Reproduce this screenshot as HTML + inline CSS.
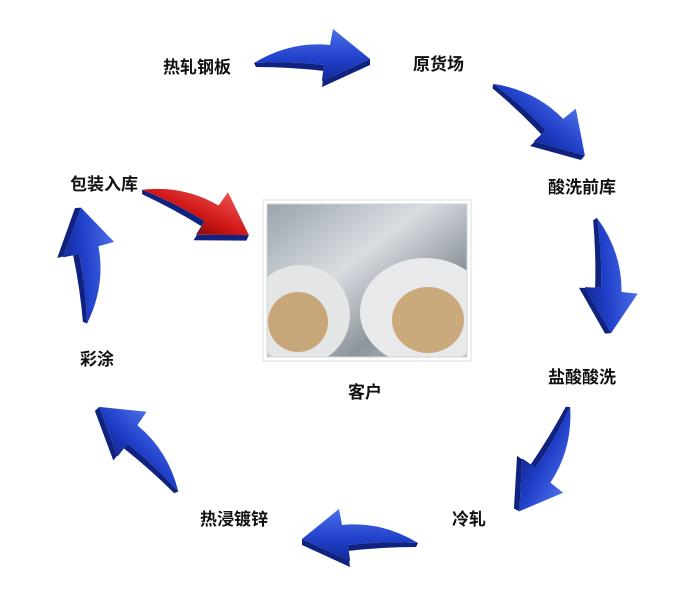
<!DOCTYPE html>
<html><head><meta charset="utf-8"><style>
html,body{margin:0;padding:0;background:#fff;}
.w{position:relative;width:680px;height:589px;overflow:hidden;font-family:"Liberation Sans","Noto Sans CJK SC",sans-serif;}
.t{position:absolute;font-size:17px;color:#111;font-weight:bold;white-space:nowrap;line-height:20px;}
</style></head><body><div class="w">
<svg width="680" height="589" style="position:absolute;left:0;top:0">
<defs>
<linearGradient id="b" x1="0" y1="0" x2="0" y2="1"><stop offset="0" stop-color="#4a6ee8"/><stop offset="0.6" stop-color="#1f3fc8"/><stop offset="1" stop-color="#142a9a"/></linearGradient>
<linearGradient id="r" x1="0" y1="0" x2="0" y2="1"><stop offset="0" stop-color="#f05050"/><stop offset="0.6" stop-color="#d01818"/><stop offset="1" stop-color="#8e0a0a"/></linearGradient>
<g id="a"><path d="M-58,8 Q-22,-14 18,-10 L21,-26 L58,4 L10,26 L12,10 Q-22,6 -58,8 Z"/><path d="M-58,8 Q-22,6 12,10 L10,26 L58,4 L58,10 L10,32 L12,16 Q-22,12 -56,12Z" fill="#0f2280"/></g>
<linearGradient id="p" x1="0" y1="0" x2="1" y2="1"><stop offset="0" stop-color="#9aa3ab"/><stop offset="0.4" stop-color="#d8dde2"/><stop offset="0.7" stop-color="#8d959c"/><stop offset="1" stop-color="#c0c6cc"/></linearGradient>
<clipPath id="c"><rect x="267" y="204" width="200" height="153"/></clipPath>
</defs>
<use href="#a" fill="url(#b)" transform="translate(312,55)"/>
<use href="#a" fill="url(#b)" transform="translate(543,115) rotate(40)"/>
<use href="#a" fill="url(#b)" transform="translate(610,275) rotate(85)"/>
<use href="#a" fill="url(#b)" transform="translate(550,462) rotate(118)"/>
<use href="#a" fill="url(#b)" transform="translate(360,535) scale(-1,1)"/>
<use href="#a" fill="url(#b)" transform="translate(143,445) rotate(225) scale(1,-1)"/>
<use href="#a" fill="url(#b)" transform="translate(90,265) rotate(-95) scale(1,-1)"/>
<use href="#a" fill="url(#r)" transform="translate(198,207) rotate(25)"/>
<rect x="263" y="200" width="208" height="161" fill="#fff" stroke="#ddd"/>
<g clip-path="url(#c)">
<rect x="267" y="204" width="200" height="153" fill="url(#p)"/>
<ellipse cx="300" cy="315" rx="50" ry="50" fill="#e4e6e6"/>
<ellipse cx="298" cy="322" rx="30" ry="30" fill="#c7a77a"/>
<ellipse cx="425" cy="312" rx="65" ry="54" fill="#e8e9ea"/>
<ellipse cx="428" cy="320" rx="36" ry="33" fill="#caa97c"/>
</g>
<rect x="267" y="204" width="200" height="153" fill="none" stroke="#cfd3d6"/>
</svg>
<div class="t" style="left:163px;top:58px">热轧钢板</div>
<div class="t" style="left:413px;top:55px">原货场</div>
<div class="t" style="left:548px;top:178px">酸洗前库</div>
<div class="t" style="left:548px;top:368px">盐酸酸洗</div>
<div class="t" style="left:452px;top:510px">冷轧</div>
<div class="t" style="left:200px;top:510px">热浸镀锌</div>
<div class="t" style="left:80px;top:350px">彩涂</div>
<div class="t" style="left:70px;top:175px">包装入库</div>
<div class="t" style="left:348px;top:383px">客户</div>
</div></body></html>
